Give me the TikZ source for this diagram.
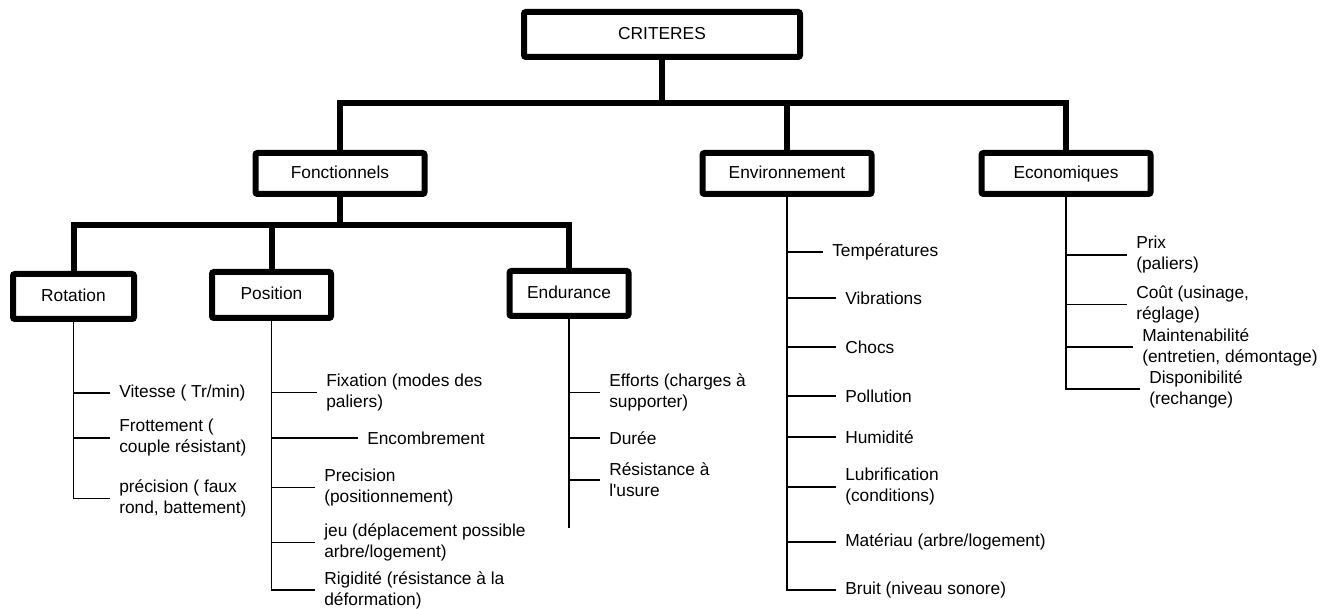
\documentclass[tikz,border=0pt]{standalone}
\usepackage{fontspec}
\setmainfont{Liberation Sans}
\newcommand{\lblfont}{\fontsize{13}{15.75}\selectfont}
\begin{document}
\begin{tikzpicture}[x=0.75pt,y=-0.75pt,
  box/.style={draw, line width=4.5pt, rounded corners=1.5pt, inner sep=0pt, font=\lblfont, align=center, text height=9.4pt, text depth=2.6pt},
  bigbox/.style={box, minimum width=207pt, minimum height=33.75pt},
  midbox/.style={box, minimum width=126.75pt, minimum height=30.75pt},
  smallbox/.style={box, minimum width=89.25pt, minimum height=33.75pt},
  bus/.style={line width=4.5pt},
  twig/.style={line width=1.1pt},
  leaf/.style={anchor=west, align=left, inner xsep=6.75pt, inner ysep=0pt, font=\lblfont},
]
\useasboundingbox (0,0) rectangle (1335,609);

% main boxes
\node[bigbox] (crit) at (662,34.5) {CRITERES};
\node[midbox] (fonc) at (340,173.5) {Fonctionnels};
\node[midbox] (env) at (787,173.5) {Environnement};
\node[midbox] (econ) at (1066,173.5) {Economiques};
\node[smallbox, minimum width=90.75pt] (rot) at (73.5,296.5) {Rotation};
\node[smallbox, minimum height=34.5pt] (pos) at (271.5,295) {Position};
\node[smallbox] (endu) at (569,293.5) {Endurance};

% buses
\coordinate (bus1) at (663,103);
\coordinate (bus2) at (340,225);
\draw[bus] (crit.south) -- (crit.south |- bus1);
\draw[bus] (fonc.north) |- (bus1) -| (econ.north);
\draw[bus] (env.north) -- (env.north |- bus1);
\draw[bus] (fonc.south) -- (bus2);
\draw[bus] (rot.north) |- (bus2) -| (endu.north);
\draw[bus] (pos.north) -- (pos.north |- bus2);

% Rotation leaves
\node[leaf] (r1) at (110,393) {Vitesse ( Tr/min)};
\node[leaf] (r2) at (110,438) {Frottement (\\couple résistant)};
\node[leaf] (r3) at (110,498.5) {précision ( faux\\rond, battement)};
\draw[twig] (rot.south) |- (r3.west);
\draw[twig] (rot.south |- r1.west) -- (r1.west);
\draw[twig] (rot.south |- r2.west) -- (r2.west);

% Position leaves
\node[leaf] (p1) at (317,392.5) {Fixation (modes des\\paliers)};
\node[leaf] (p2) at (358,438) {Encombrement};
\node[leaf] (p3) at (315,487.5) {Precision\\(positionnement)};
\node[leaf] (p4) at (315,542.5) {jeu (déplacement possible\\arbre/logement)};
\node[leaf] (p5) at (315,590) {Rigidité (résistance à la\\déformation)};
\draw[twig] (pos.south) |- (p5.west);
\foreach \n in {p1,p2,p3,p4}
  \draw[twig] (pos.south |- \n.west) -- (\n.west);

% Endurance leaves
\node[leaf] (e1) at (600,392.5) {Efforts (charges à\\supporter)};
\node[leaf] (e2) at (600,438) {Durée};
\node[leaf] (e3) at (600,480) {Résistance à\\l\textquotesingle usure};
\coordinate (eend) at (569,528);
\draw[twig] (endu.south) -- (eend);
\foreach \n in {e1,e2,e3}
  \draw[twig] (endu.south |- \n.west) -- (\n.west);

% Environnement leaves
\node[leaf] (v1) at (823,252) {Températures};
\node[leaf] (v2) at (836,298) {Vibrations};
\node[leaf] (v3) at (836,347) {Chocs};
\node[leaf] (v4) at (836,396) {Pollution};
\node[leaf] (v5) at (836,437) {Humidité};
\node[leaf] (v6) at (836,487) {Lubrification\\(conditions)};
\node[leaf] (v7) at (836,542) {Matériau (arbre/logement)};
\node[leaf] (v8) at (836,590) {Bruit (niveau sonore)};
\draw[twig] (env.south) |- (v8.west);
\foreach \n in {v1,v2,v3,v4,v5,v6,v7}
  \draw[twig] (env.south |- \n.west) -- (\n.west);

% Economiques leaves
\node[leaf] (c1) at (1127,255) {Prix\\(paliers)};
\node[leaf] (c2) at (1127,304.5) {Coût (usinage,\\réglage)};
\node[leaf] (c3) at (1133,347) {Maintenabilité\\(entretien, démontage)};
\node[leaf] (c4) at (1140,389) {Disponibilité\\(rechange)};
\draw[twig] (econ.south) |- (c4.west);
\foreach \n in {c1,c2,c3}
  \draw[twig] (econ.south |- \n.west) -- (\n.west);
\end{tikzpicture}
\end{document}
